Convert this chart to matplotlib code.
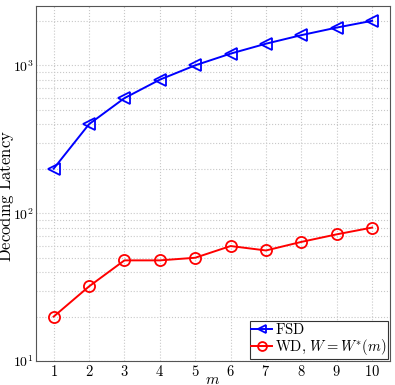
#!/usr/bin/env python

import math
from matplotlib import pyplot as plt
from matplotlib import ticker

plt.rcParams['mathtext.fontset'] = 'cm'
plt.rcParams['font.family'] = 'serif'
plt.rcParams['font.serif'] = ['DejaVu Serif']

m = [1, 2, 3, 4, 5, 6, 7, 8, 9, 10]
fsd = [200, 400, 600, 800, 1000, 1200, 1400, 1600, 1800, 2000]
wd = [20, 32, 48, 48, 50, 60, 56, 64, 72, 80]

fig = plt.figure(figsize=(3.95, 3.85), dpi=100)
ax = fig.add_axes([0.091, 0.062, 0.896, 0.922])

ax.plot(m, fsd, color='blue', marker='<', markersize=8, markerfacecolor='none',
        markeredgewidth=1.3, linewidth=1.4, label=r'$\mathrm{FSD}$')
ax.plot(m, wd, color='red', marker='o', markersize=8, markerfacecolor='none',
        markeredgewidth=1.3, linewidth=1.4, label=r'$\mathrm{WD},\, W = W^{*}(m)$')

ax.set_yscale('log')
ax.set_xlim(0.5, 10.5)
ax.set_ylim(10, 2512)
ax.set_xticks(m)
ax.set_xticklabels([r'$%d$' % v for v in m], fontsize=10.5)
ax.yaxis.set_major_formatter(ticker.FuncFormatter(lambda v, p: r'$10^{%d}$' % round(math.log10(v))))
ax.yaxis.set_minor_formatter(ticker.NullFormatter())
ax.tick_params(axis='y', labelsize=10)

ax.grid(True, which='major', color='#c8c8c8', linestyle=':', linewidth=0.8)
ax.grid(True, which='minor', axis='y', color='#c8c8c8', linestyle=':', linewidth=0.8)
ax.tick_params(which='both', direction='in', length=0, pad=2)
ax.tick_params(axis='y', pad=1.5)
for s in ax.spines.values():
    s.set_color('#555555')

ax.set_xlabel(r'$m$', fontsize=11)
ax.xaxis.set_label_coords(0.5, -0.034)
ax.set_ylabel(r'$\mathrm{Decoding\ Latency}$', fontsize=12)
ax.yaxis.set_label_coords(-0.057, 0.465)

leg = ax.legend(loc='lower right', fontsize=10.5, fancybox=False, framealpha=1,
                edgecolor='#333333', borderpad=0.1, labelspacing=0.0,
                handlelength=1.4, handletextpad=0.2, borderaxespad=0.15,
                markerscale=0.8)
leg.get_frame().set_linewidth(0.8)

fig.savefig('out.png', dpi=100)
